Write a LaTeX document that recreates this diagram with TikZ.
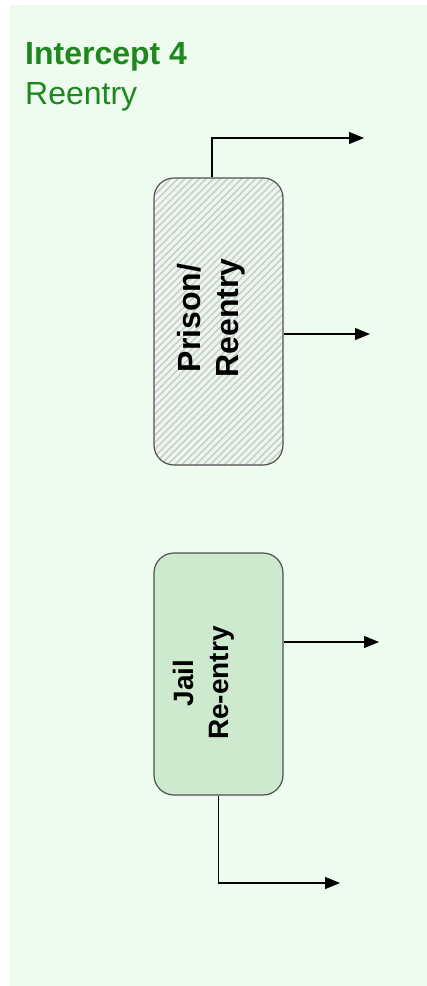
\documentclass[tikz,border=0pt]{standalone}
\usepackage{fontspec}
\setmainfont{Liberation Sans}
\usetikzlibrary{arrows.meta,patterns.meta}
\definecolor{panelbg}{RGB}{237,252,238}
\definecolor{titlegreen}{RGB}{30,135,30}
\definecolor{jailfill}{RGB}{206,234,206}
\definecolor{prisonbg}{RGB}{237,246,238}
\definecolor{hatchgray}{RGB}{198,204,199}
\definecolor{boxborder}{RGB}{80,80,80}
\begin{document}
\begin{tikzpicture}[x=1pt,y=-1pt,
  procbox/.style={draw=boxborder, line width=1.2pt, rounded corners=20pt, minimum width=129pt, inner sep=0pt},
  boxtext/.style={rotate=90, align=center, inner sep=0pt, text=black},
  flow/.style={draw=black, line width=1.2pt, -{Triangle[length=15pt,width=12pt]}},
  title/.style={anchor=base west, inner sep=0pt, text=titlegreen, font=\fontsize{32}{38}\selectfont}
]
\useasboundingbox (0,0) rectangle (427,986);
\fill[white] (0,0) rectangle (427,986);
\fill[panelbg] (10,5) rectangle (427,986);

\node[title, font=\fontsize{32}{38}\selectfont\bfseries] (t1) at (25,64) {Intercept 4};
\node[title] (t2) at (25,104) {Reentry};

\node[procbox, minimum height=287pt,
      preaction={fill=prisonbg},
      pattern={Lines[angle=45,distance=5pt,line width=1.4pt]}, pattern color=hatchgray]
  (prison) at (218.5,321.5) {};
\node[boxtext, font=\fontsize{32}{38}\selectfont\bfseries] (prisontext) at (211,318) {Prison/\\Reentry};

\node[procbox, minimum height=242pt, fill=jailfill] (jail) at (218.5,674) {};
\node[boxtext, font=\fontsize{28}{35}\selectfont\bfseries] (jailtext) at (203.5,683) {Jail\\Re-entry};

\coordinate (p1) at (364,138);
\coordinate (p2) at (370,334);
\coordinate (j1) at (379,642);
\coordinate (j2) at (340,883);

\draw[flow] ([xshift=-6.5pt]prison.north) |- (p1);
\draw[flow] (prison.east |- p2) -- (p2);
\draw[flow] (jail.east |- j1) -- (j1);
\draw[flow] (jail.south) |- (j2);
\end{tikzpicture}
\end{document}
